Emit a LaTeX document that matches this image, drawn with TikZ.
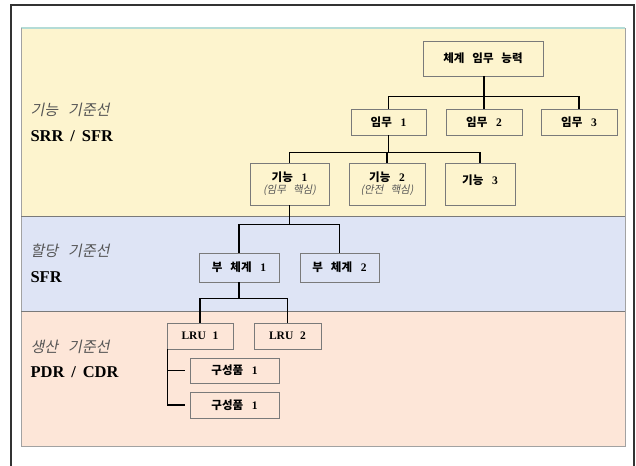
\documentclass[tikz,border=0pt]{standalone}
\usepackage{fontspec}
\usetikzlibrary{calc}
\setmainfont{Liberation Serif}
\newfontfamily\krfont[WordSpace=3]{Noto Sans CJK KR}
\newcommand{\kor}[1]{{\krfont #1}}
\newcommand{\gap}{\hspace{0.75em}}
\newcommand{\notetxt}[1]{{\normalfont\color{labgray}\fontsize{10.5}{12}\selectfont\krfont\addfontfeature{FakeSlant=0.2}#1}}
\definecolor{bandY}{HTML}{FDF4CE}
\definecolor{bandB}{HTML}{DEE4F5}
\definecolor{bandP}{HTML}{FDE6D8}
\definecolor{tealline}{HTML}{B4DCD6}
\definecolor{boxline}{HTML}{7A7A7A}
\definecolor{labgray}{HTML}{555555}
\begin{document}
\begin{tikzpicture}[x=1pt,y=-1pt,
  box/.style={draw=boxline,line width=0.9pt,inner sep=0pt,font=\fontsize{11.5}{13}\selectfont\bfseries},
  conn/.style={draw=black,line width=1.7pt},
  itlab/.style={anchor=west,text=labgray,font=\fontsize{15}{17}\selectfont},
  bflab/.style={anchor=west,font=\fontsize{16.5}{18}\selectfont\bfseries}]
\useasboundingbox (0,0) rectangle (636,465);
\fill[white] (0,0) rectangle (636,465);
% bands
\fill[bandY] (21,28) rectangle (625,216);
\fill[bandB] (21,216) rectangle (625,311);
\fill[bandP] (21,311) rectangle (625,446);
\draw[tealline,line width=1.2pt] (21,28) -- (625,28);
\draw[boxline!70,line width=0.8pt] (21,28) -- (21,446) -- (625,446) -- (625,28);
\draw[boxline,line width=0.8pt] (21,216) -- (625,216);
\draw[boxline,line width=0.8pt] (21,311) -- (625,311);
% outer frame
\draw[black!80,line width=1.6pt] (11,470) -- (11,5) -- (634,5) -- (634,470);
% labels
\node[itlab] (l1a) at (27,110) {\kor{\addfontfeature{FakeSlant=0.2}기능 기준선}};
\node[bflab] (l1b) at (27,136) {SRR\, /\, SFR};
\node[itlab] (l2a) at (27,251) {\kor{\addfontfeature{FakeSlant=0.2}할당 기준선}};
\node[bflab] (l2b) at (27,277) {SFR};
\node[itlab] (l3a) at (27,347) {\kor{\addfontfeature{FakeSlant=0.2}생산 기준선}};
\node[bflab] (l3b) at (27,372) {PDR\, /\, CDR};
% boxes
\node[box,minimum width=120pt,minimum height=35pt] (top) at (483,58.5) {\kor{체계 임무 능력}};
\node[box,minimum width=75pt,minimum height=26pt] (m1) at (388.5,122) {\kor{임무}\gap 1};
\node[box,minimum width=76pt,minimum height=26pt] (m2) at (484,122) {\kor{임무}\gap 2};
\node[box,minimum width=76pt,minimum height=26pt] (m3) at (579,122) {\kor{임무}\gap 3};
\node[box,minimum width=79pt,minimum height=42pt,align=center] (f1) at (289.5,184) {\kor{기능}\gap 1\\[-1pt]\notetxt{(임무 핵심)}};
\node[box,minimum width=76pt,minimum height=42pt,align=center] (f2) at (387,184) {\kor{기능}\gap 2\\[-1pt]\notetxt{(안전 핵심)}};
\node[box,minimum width=70pt,minimum height=42pt] (f3) at (480,184) {\raisebox{9pt}{\kor{기능}\gap 3}};
\node[box,minimum width=80pt,minimum height=29pt] (s1) at (239,267.5) {\kor{부 체계}\gap 1};
\node[box,minimum width=79pt,minimum height=29pt] (s2) at (339.5,267.5) {\kor{부 체계}\gap 2};
\node[box,minimum width=66pt,minimum height=26pt] (r1) at (200,336) {LRU\hspace{0.6em}1};
\node[box,minimum width=67pt,minimum height=26pt] (r2) at (287.5,336) {LRU\hspace{0.6em}2};
\node[box,minimum width=89pt,minimum height=25pt] (c1) at (234.5,370.5) {\kor{구성품}\gap 1};
\node[box,minimum width=89pt,minimum height=26pt] (c2) at (234.5,405) {\kor{구성품}\gap 1};
% connectors
\coordinate (b1) at ($(top.south)+(0,20)$);
\draw[conn] (m1.north) |- (b1) -| (m3.north);
\draw[conn] (top.south) -- (m2.north |- top.south) -- (m2.north);
\draw[conn] (m1.south) -- ++(0,17) coordinate (b2);
\draw[conn] (f1.north) |- (b2) -| (f3.north);
\draw[conn] (f2.north) -- (f2.north |- b2);
\draw[conn] (f1.south) -- ++(0,19) coordinate (b3);
\draw[conn] (s1.north) |- (b3) -| (s2.north);
\draw[conn] (s1.south) -- ++(0,16) coordinate (b4);
\draw[conn] (r1.north) |- (b4) -| (r2.north);
\coordinate (t0) at ($(r1.south west)+(1,0)$);
\coordinate (e1) at ($(c1.west)+(-5,0)$);
\coordinate (e2) at ($(c2.west)+(-5,0)$);
\draw[conn] (t0) |- (e2);
\draw[conn] (t0 |- e1) -- (e1);
\end{tikzpicture}
\end{document}
